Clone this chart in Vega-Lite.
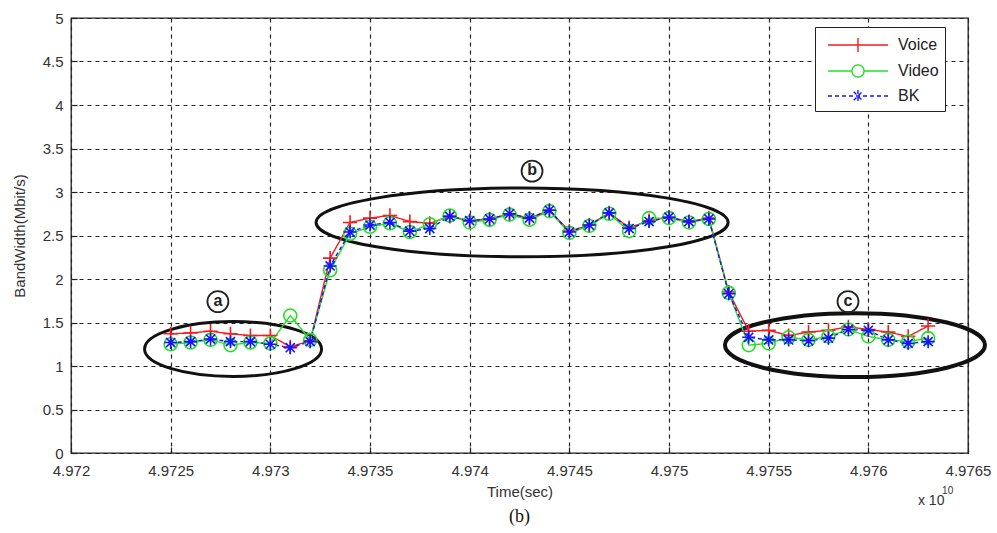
{
  "$schema": "https://vega.github.io/schema/vega-lite/v6.json",
  "width": 897,
  "height": 435,
  "autosize": {"type": "none"},
  "padding": {"left": 71, "top": 18, "right": 29, "bottom": 80},
  "background": "white",
  "title": {"text": "(b)", "orient": "bottom", "font": "Liberation Serif", "fontSize": 18, "fontWeight": "normal", "color": "#111", "offset": 0},
  "config": {
    "font": "Liberation Sans",
    "view": {"stroke": "#222", "strokeWidth": 1.3},
    "axis": {
      "domain": false,
      "grid": true,
      "gridColor": "#222",
      "gridDash": [4, 4],
      "gridWidth": 1.2,
      "ticks": true,
      "tickColor": "#222",
      "tickSize": -6,
      "tickWidth": 1.2,
      "labelFont": "Liberation Sans",
      "labelFontSize": 15,
      "labelColor": "#333",
      "titleFont": "Liberation Sans",
      "titleFontSize": 15,
      "titleFontWeight": "normal",
      "titleColor": "#333",
      "labelFlush": false,
      "labelOverlap": false
    }
  },
  "datasets": {
    "bw": [
      {"t": 4.9725, "Voice": 1.37, "Video": 1.25, "BK": 1.27},
      {"t": 4.9726, "Voice": 1.38, "Video": 1.27, "BK": 1.28},
      {"t": 4.9727, "Voice": 1.40, "Video": 1.30, "BK": 1.31},
      {"t": 4.9728, "Voice": 1.37, "Video": 1.24, "BK": 1.28},
      {"t": 4.9729, "Voice": 1.35, "Video": 1.27, "BK": 1.28},
      {"t": 4.9730, "Voice": 1.35, "Video": 1.26, "BK": 1.25},
      {"t": 4.9731, "Voice": 1.22, "Video": 1.58, "BK": 1.21},
      {"t": 4.9732, "Voice": 1.29, "Video": 1.30, "BK": 1.28},
      {"t": 4.9733, "Voice": 2.24, "Video": 2.10, "BK": 2.15},
      {"t": 4.9734, "Voice": 2.65, "Video": 2.52, "BK": 2.54},
      {"t": 4.9735, "Voice": 2.70, "Video": 2.60, "BK": 2.62},
      {"t": 4.9736, "Voice": 2.73, "Video": 2.64, "BK": 2.65},
      {"t": 4.9737, "Voice": 2.66, "Video": 2.54, "BK": 2.55},
      {"t": 4.9738, "Voice": 2.64, "Video": 2.63, "BK": 2.58},
      {"t": 4.9739, "Voice": 2.72, "Video": 2.73, "BK": 2.72},
      {"t": 4.9740, "Voice": 2.67, "Video": 2.65, "BK": 2.67},
      {"t": 4.9741, "Voice": 2.69, "Video": 2.68, "BK": 2.69},
      {"t": 4.9742, "Voice": 2.75, "Video": 2.74, "BK": 2.75},
      {"t": 4.9743, "Voice": 2.70, "Video": 2.68, "BK": 2.70},
      {"t": 4.9744, "Voice": 2.79, "Video": 2.78, "BK": 2.79},
      {"t": 4.9745, "Voice": 2.55, "Video": 2.53, "BK": 2.54},
      {"t": 4.9746, "Voice": 2.62, "Video": 2.61, "BK": 2.62},
      {"t": 4.9747, "Voice": 2.76, "Video": 2.75, "BK": 2.76},
      {"t": 4.9748, "Voice": 2.59, "Video": 2.55, "BK": 2.58},
      {"t": 4.9749, "Voice": 2.67, "Video": 2.70, "BK": 2.66},
      {"t": 4.9750, "Voice": 2.71, "Video": 2.70, "BK": 2.71},
      {"t": 4.9751, "Voice": 2.66, "Video": 2.65, "BK": 2.66},
      {"t": 4.9752, "Voice": 2.70, "Video": 2.69, "BK": 2.69},
      {"t": 4.9753, "Voice": 1.85, "Video": 1.84, "BK": 1.83},
      {"t": 4.9754, "Voice": 1.40, "Video": 1.24, "BK": 1.33},
      {"t": 4.9755, "Voice": 1.41, "Video": 1.26, "BK": 1.30},
      {"t": 4.9756, "Voice": 1.35, "Video": 1.33, "BK": 1.30},
      {"t": 4.9757, "Voice": 1.39, "Video": 1.30, "BK": 1.29},
      {"t": 4.9758, "Voice": 1.41, "Video": 1.34, "BK": 1.32},
      {"t": 4.9759, "Voice": 1.45, "Video": 1.42, "BK": 1.42},
      {"t": 4.9760, "Voice": 1.42, "Video": 1.34, "BK": 1.41},
      {"t": 4.9761, "Voice": 1.39, "Video": 1.30, "BK": 1.30},
      {"t": 4.9762, "Voice": 1.34, "Video": 1.28, "BK": 1.26},
      {"t": 4.9763, "Voice": 1.46, "Video": 1.32, "BK": 1.28}
    ],
    "notes": [
      {"name": "ellA", "t": 4.972813, "bw": 1.195},
      {"name": "ellB", "t": 4.974263, "bw": 2.65},
      {"name": "ellC", "t": 4.975933, "bw": 1.24},
      {"name": "a", "t": 4.972737, "bw": 1.74},
      {"name": "b", "t": 4.974313, "bw": 3.24},
      {"name": "c", "t": 4.975898, "bw": 1.74}
    ],
    "exp": [
      {"txt": "x 10", "t": 4.976249, "bw": -0.55},
      {"txt": "10", "t": 4.97637, "bw": -0.435}
    ]
  },
  "encoding": {
    "x": {
      "field": "t", "type": "quantitative",
      "scale": {"domain": [4.972, 4.9765], "zero": false, "nice": false},
      "axis": {
        "title": "Time(sec)",
        "values": [4.972, 4.9725, 4.973, 4.9735, 4.974, 4.9745, 4.975, 4.9755, 4.976, 4.9765],
        "format": ".5~r",
        "labelPadding": 16,
        "titlePadding": 6
      }
    },
    "y": {
      "field": "bw", "type": "quantitative",
      "scale": {"domain": [0, 5], "nice": false},
      "axis": {
        "title": "BandWidth(Mbit/s)",
        "values": [0, 0.5, 1, 1.5, 2, 2.5, 3, 3.5, 4, 4.5, 5],
        "format": "~g",
        "labelPadding": 14,
        "titlePadding": 15
      }
    }
  },
  "layer": [
    {
      "data": {"name": "notes"},
      "transform": [{"filter": "datum.name === 'ellA'"}],
      "mark": {"type": "point", "shape": "M-1,0A1,0.31 0 1,0 1,0A1,0.31 0 1,0 -1,0", "size": 31329, "filled": false, "stroke": "#111", "strokeWidth": 3, "opacity": 1}
    },
    {
      "data": {"name": "notes"},
      "transform": [{"filter": "datum.name === 'ellB'"}],
      "mark": {"type": "point", "shape": "M-1,0A1,0.167 0 1,0 1,0A1,0.167 0 1,0 -1,0", "size": 169744, "filled": false, "stroke": "#111", "strokeWidth": 3, "opacity": 1}
    },
    {
      "data": {"name": "notes"},
      "transform": [{"filter": "datum.name === 'ellC'"}],
      "mark": {"type": "point", "shape": "M-1,0A1,0.246 0 1,0 1,0A1,0.246 0 1,0 -1,0", "size": 67600, "filled": false, "stroke": "#111", "strokeWidth": 4, "opacity": 1}
    },
    {
      "data": {"name": "notes"},
      "transform": [{"filter": "length(datum.name) === 1"}],
      "mark": {"type": "point", "shape": "M1,0A1,1 0 1,1 -1,0A1,1 0 1,1 1,0", "size": 441, "filled": false, "stroke": "#222", "strokeWidth": 1.8, "opacity": 1}
    },
    {
      "data": {"name": "notes"},
      "transform": [{"filter": "length(datum.name) === 1"}],
      "mark": {"type": "text", "font": "Liberation Sans", "fontSize": 16, "fontWeight": "bold", "color": "#222", "baseline": "middle", "align": "center", "dy": -1},
      "encoding": {"text": {"field": "name"}}
    },
    {
      "data": {"name": "bw"},
      "transform": [{"fold": ["Voice", "Video", "BK"], "as": ["series", "bw"]}],
      "mark": {"type": "line", "strokeWidth": 1.4},
      "encoding": {
        "color": {"field": "series", "type": "nominal", "scale": {"domain": ["Voice", "Video", "BK"], "range": ["#f41c1c", "#22e022", "#1414ff"]}, "legend": null},
        "strokeDash": {"field": "series", "type": "nominal", "scale": {"domain": ["Voice", "Video", "BK"], "range": [[1, 0], [1, 0], [4, 3]]}, "legend": null}
      }
    },
    {
      "data": {"name": "bw"},
      "transform": [{"fold": ["Voice", "Video", "BK"], "as": ["series", "bw"]}],
      "mark": {"type": "point", "filled": false, "size": 169, "strokeWidth": 1.6, "opacity": 1},
      "encoding": {
        "color": {"field": "series", "type": "nominal", "scale": {"domain": ["Voice", "Video", "BK"], "range": ["#f41c1c", "#22e022", "#1414ff"]}, "legend": null},
        "shape": {"field": "series", "type": "nominal", "scale": {"domain": ["Voice", "Video", "BK"], "range": ["M-1.1,0L1.1,0M0,-1.1L0,1.1", "M1,0A1,1 0 1,1 -1,0A1,1 0 1,1 1,0", "M-1,0L1,0M0,-1L0,1M-0.7,-0.7L0.7,0.7M-0.7,0.7L0.7,-0.7"]}, "legend": null}
      }
    },
    {
      "data": {"name": "bw"},
      "transform": [{"fold": ["Voice", "Video", "BK"], "as": ["series", "bw"]}],
      "mark": {"type": "point", "filled": false, "opacity": 0, "strokeWidth": 1.4},
      "encoding": {
        "color": {"field": "series", "type": "nominal", "scale": {"domain": ["Voice", "Video", "BK"], "range": ["#f41c1c", "#22e022", "#1414ff"]},
          "legend": {"title": null, "orient": "none", "legendX": 744, "legendY": 9, "padding": 6, "strokeColor": "#222", "fillColor": "white", "symbolSize": 484, "symbolOpacity": 1, "symbolStrokeWidth": 1.4, "labelOffset": 53, "labelFontSize": 16, "labelFont": "Liberation Sans", "labelColor": "#222", "rowPadding": 4, "labelExpr": "datum.label + '      '"}},
        "shape": {"field": "series", "type": "nominal", "scale": {"domain": ["Voice", "Video", "BK"], "range": [
          "M-0.455,0L5,0M2.27,-0.64L2.27,0.64",
          "M-0.455,0L1.72,0M2.82,0L5,0M2.82,0A0.55,0.55 0 1,1 1.72,0A0.55,0.55 0 1,1 2.82,0",
          "M-0.455,0L5,0M2.27,-0.55L2.27,0.55M1.88,-0.39L2.66,0.39M1.88,0.39L2.66,-0.39"]}},
        "strokeDash": {"field": "series", "type": "nominal", "scale": {"domain": ["Voice", "Video", "BK"], "range": [[1, 0], [1, 0], [4, 3]]}}
      }
    },
    {
      "data": {"name": "exp"},
      "transform": [{"filter": "datum.txt === 'x 10'"}],
      "mark": {"type": "text", "font": "Liberation Sans", "fontSize": 14, "color": "#333", "align": "left", "baseline": "middle"},
      "encoding": {"text": {"field": "txt"}}
    },
    {
      "data": {"name": "exp"},
      "transform": [{"filter": "datum.txt === '10'"}],
      "mark": {"type": "text", "font": "Liberation Sans", "fontSize": 10, "color": "#333", "align": "left", "baseline": "middle"},
      "encoding": {"text": {"field": "txt"}}
    }
  ],
  "resolve": {"scale": {"color": "independent", "shape": "independent", "strokeDash": "independent"}}
}
